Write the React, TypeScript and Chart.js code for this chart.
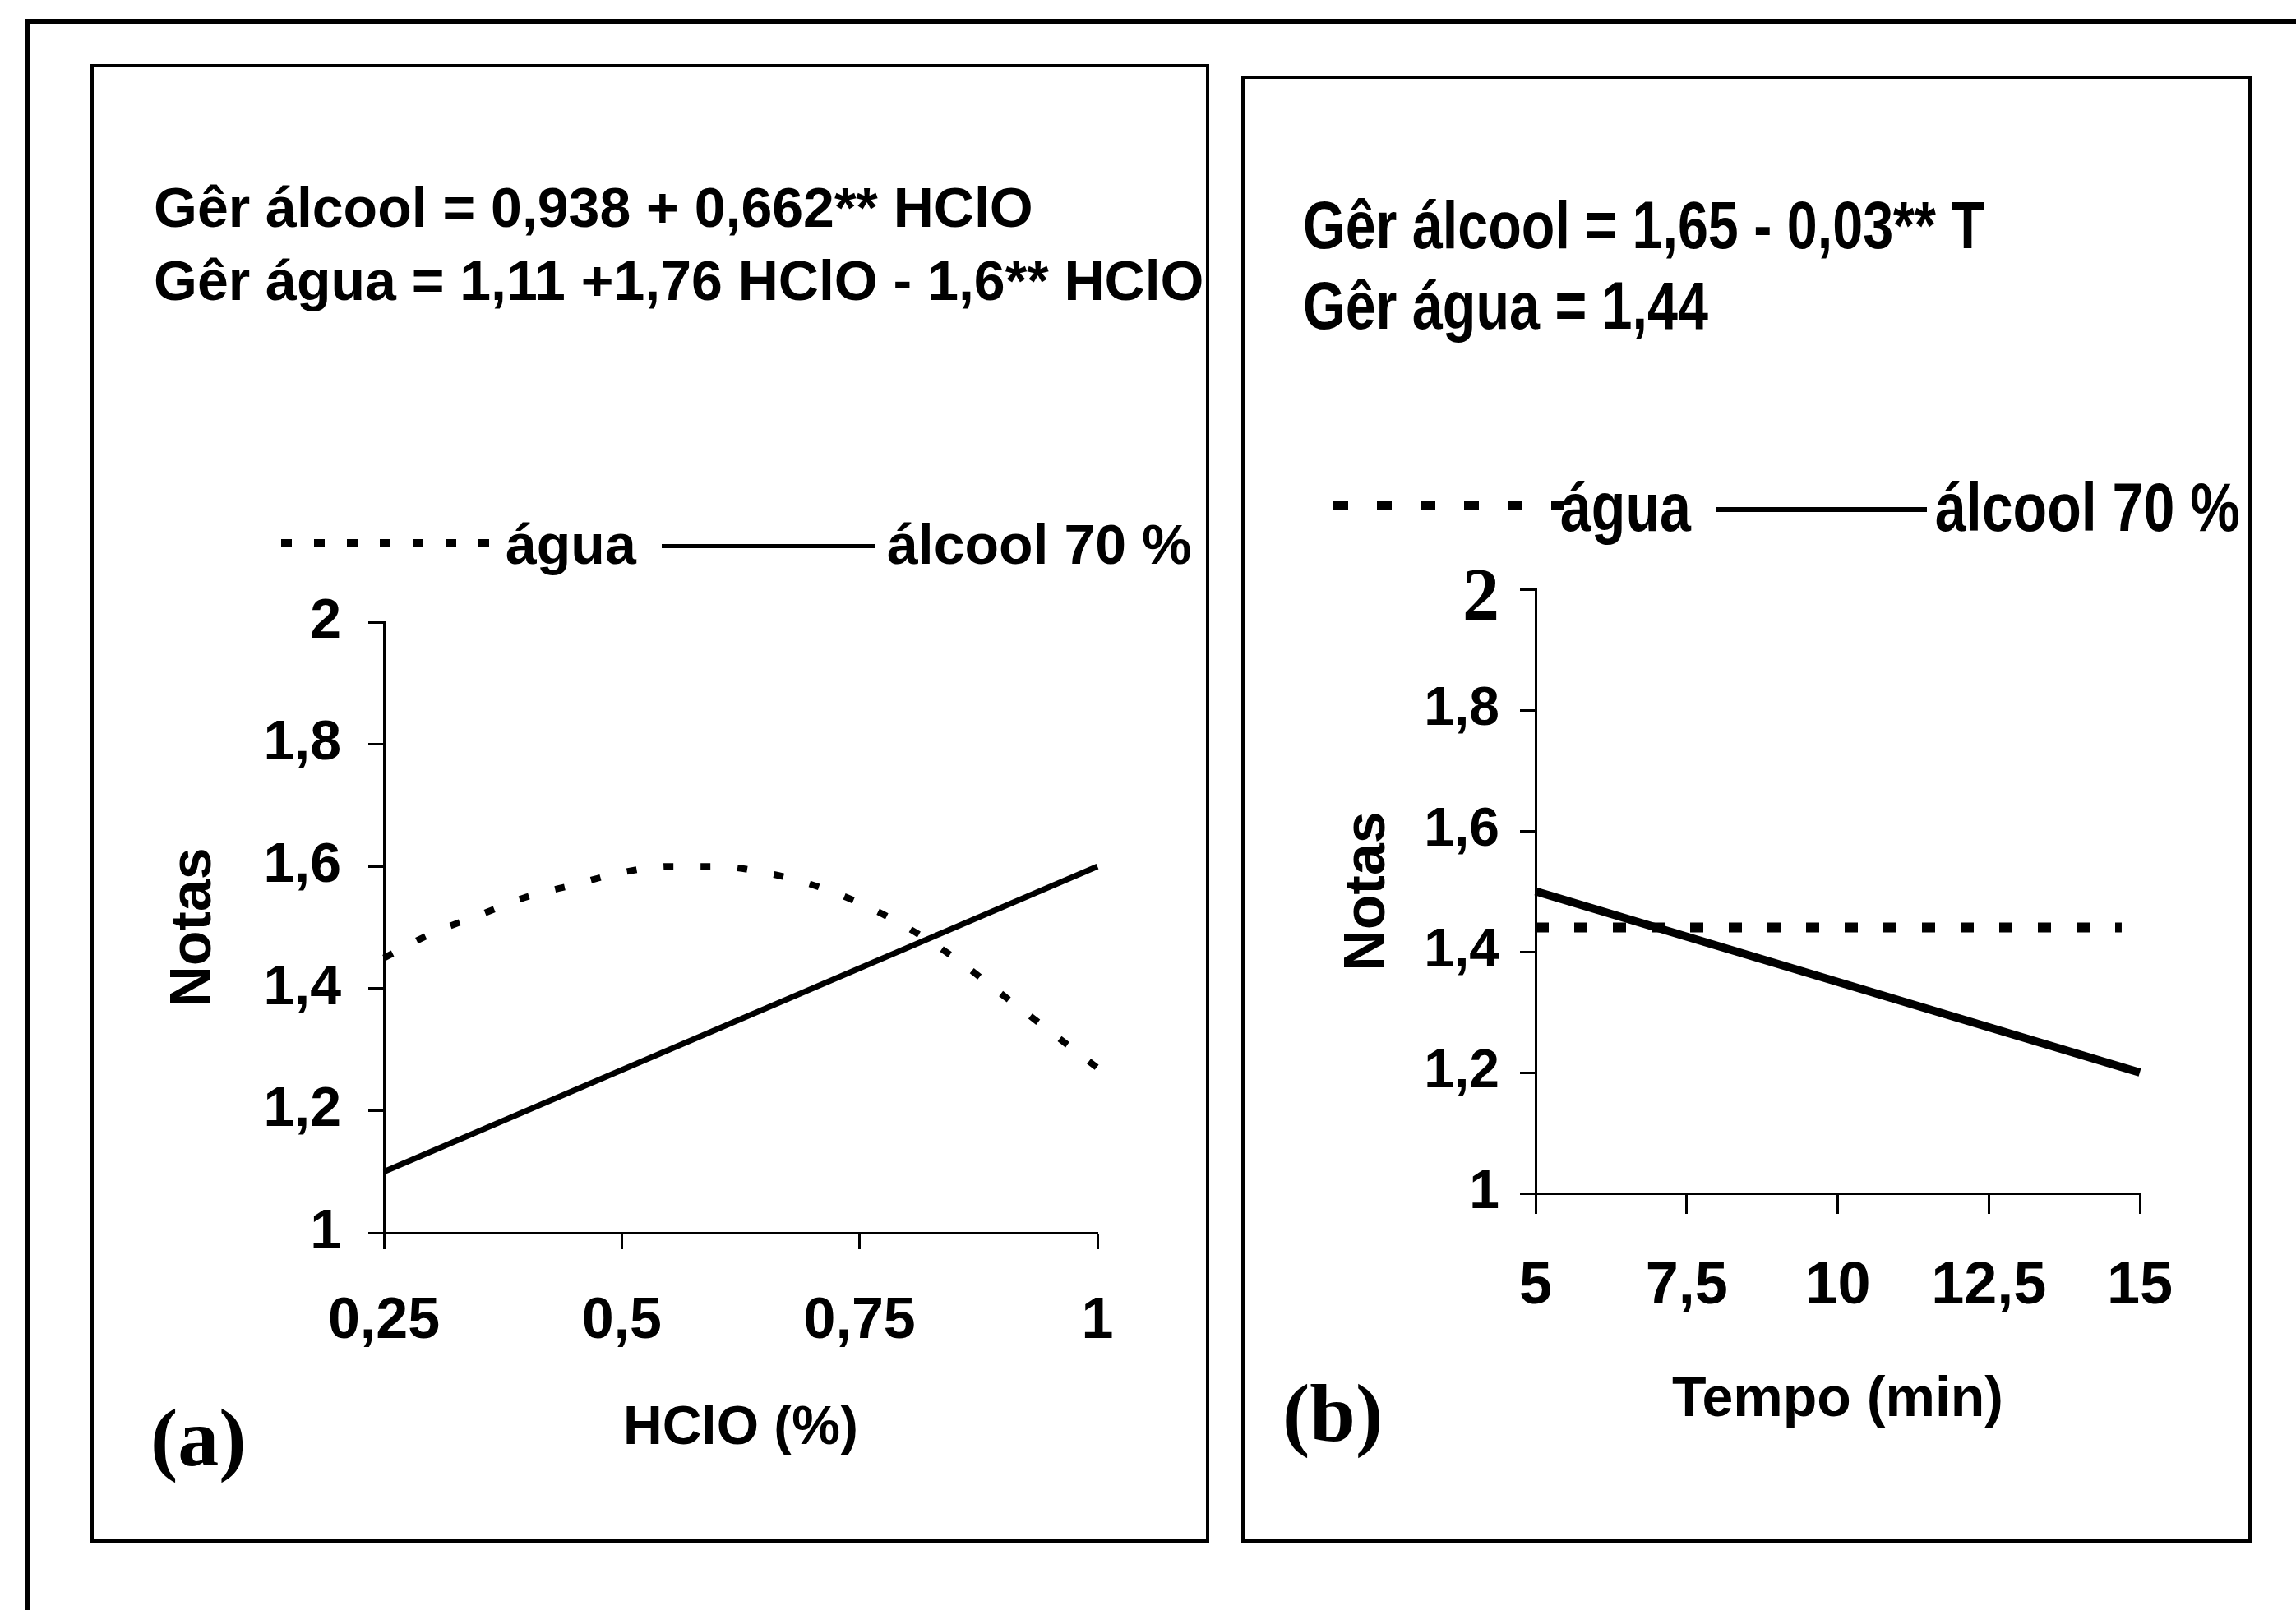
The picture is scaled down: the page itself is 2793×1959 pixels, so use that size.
import React, { useEffect, useRef } from 'react';
import { Chart, registerables } from 'chart.js';

Chart.register(...registerables);

// ---------- data ----------
const yTicks = [1, 1.2, 1.4, 1.6, 1.8, 2];
const yTickLabels = ['1', '1,2', '1,4', '1,6', '1,8', '2'];

// panel (a)
const xTicksA = [0.25, 0.5, 0.75, 1];
const xTickLabelsA = ['0,25', '0,5', '0,75', '1'];
const hclAlcool = [0.25, 1];
const notasAlcoolA = [1.1, 1.6];
const hclAgua = [0.25, 0.3, 0.35, 0.4, 0.45, 0.5, 0.55, 0.6, 0.65, 0.7, 0.75, 0.8, 0.85, 0.9, 0.95, 1.0];
const notasAguaA = [1.45, 1.49, 1.52, 1.55, 1.57, 1.59, 1.6, 1.6, 1.59, 1.57, 1.54, 1.5, 1.45, 1.39, 1.33, 1.27];

// panel (b)
const xTicksB = [5, 7.5, 10, 12.5, 15];
const xTickLabelsB = ['5', '7,5', '10', '12,5', '15'];
const tempoAlcool = [5, 15];
const notasAlcoolB = [1.5, 1.2];
const tempoAgua = [5, 14.7];
const notasAguaB = [1.44, 1.44];

const SANS = '"Liberation Sans", Arial, Helvetica, sans-serif';
const SERIF = '"Liberation Serif", "Times New Roman", serif';

const pts = (xs: number[], ys: number[]) => xs.map((x, i) => ({ x, y: ys[i] }));

function makeConfig(p: any): any {
  return {
    type: 'line',
    data: {
      datasets: [
        {
          label: 'água',
          data: pts(p.aguaX, p.aguaY),
          borderColor: '#000',
          borderWidth: p.dotWidth,
          borderDash: p.dash,
          borderCapStyle: 'butt',
          pointRadius: 0,
          fill: false,
          cubicInterpolationMode: 'monotone',
          clip: false,
        },
        {
          label: 'álcool 70 %',
          data: pts(p.alcX, p.alcY),
          borderColor: '#000',
          borderWidth: p.solidWidth,
          pointRadius: 0,
          fill: false,
          tension: 0,
          clip: false,
        },
      ],
    },
    options: {
      responsive: false,
      maintainAspectRatio: false,
      animation: false,
      devicePixelRatio: 1,
      events: [],
      layout: { padding: { left: 0, top: p.padTop, right: p.padRight, bottom: 0 } },
      plugins: { legend: { display: false }, tooltip: { enabled: false }, title: { display: false } },
      scales: {
        x: {
          type: 'linear',
          min: p.xMin,
          max: p.xMax,
          afterBuildTicks: (s: any) => {
            s.ticks = p.xTicks.map((v: number) => ({ value: v }));
          },
          afterFit: (s: any) => {
            s.height = p.xAxisH;
          },
          grid: { drawOnChartArea: false, drawTicks: true, tickLength: p.xTickLen, tickWidth: 3, tickColor: '#000' },
          border: { display: true, color: '#000', width: 3 },
          ticks: {
            autoSkip: false,
            maxRotation: 0,
            minRotation: 0,
            color: '#000',
            padding: p.xTickPad,
            font: p.xTickFont,
            callback: (_v: any, i: number) => p.xLabels[i],
          },
          title: {
            display: true,
            text: p.xTitle,
            color: '#000',
            font: p.xTitleFont,
            padding: { top: 0, bottom: p.xTitlePadBottom },
          },
        },
        y: {
          type: 'linear',
          min: 1,
          max: 2,
          afterBuildTicks: (s: any) => {
            s.ticks = yTicks.map((v) => ({ value: v }));
          },
          afterFit: (s: any) => {
            s.width = p.yAxisW;
          },
          grid: { drawOnChartArea: false, drawTicks: true, tickLength: 19, tickWidth: 3, tickColor: '#000' },
          border: { display: true, color: '#000', width: 3 },
          ticks: {
            autoSkip: false,
            color: '#000',
            padding: p.yTickPad,
            font: p.yTickFont,
            callback: p.yCallback || ((_v: any, i: number) => yTickLabels[i]),
          },
          title: {
            display: true,
            text: 'Notas',
            color: '#000',
            font: { family: SANS, size: 70, weight: 'bold' },
            padding: { top: p.yTitlePadTop, bottom: 0 },
          },
        },
      },
    },
  };
}

const cfgA = {
  aguaX: hclAgua, aguaY: notasAguaA, alcX: hclAlcool, alcY: notasAlcoolA,
  dotWidth: 8, dash: [12, 33], solidWidth: 7,
  padTop: 679, padRight: 136, xAxisH: 377, yAxisW: 357,
  xMin: 0.25, xMax: 1, xTicks: xTicksA, xLabels: xTickLabelsA,
  xTickLen: 20, xTickPad: 47,
  xTickFont: { family: SANS, size: 70, weight: 'bold' },
  xTitle: 'HClO (%)', xTitleFont: { family: SANS, size: 66, weight: 'bold' }, xTitlePadBottom: 99,
  yTickPad: 33, yTickFont: { family: SANS, size: 68, weight: 'bold' }, yTitlePadTop: 85,
};

const cfgB = {
  aguaX: tempoAgua, aguaY: notasAguaB, alcX: tempoAlcool, alcY: notasAlcoolB,
  dotWidth: 12, dash: [16, 31], solidWidth: 10,
  padTop: 624, padRight: 136, xAxisH: 425, yAxisW: 358,
  xMin: 5, xMax: 15, xTicks: xTicksB, xLabels: xTickLabelsB,
  xTickLen: 25, xTickPad: 46,
  xTickFont: { family: SANS, size: 72, weight: 'bold' },
  xTitle: 'Tempo (min)', xTitleFont: { family: SANS, size: 68, weight: 'bold' }, xTitlePadBottom: 132,
  yTickPad: 25,
  yTickFont: (ctx: any) =>
    ctx.tick && ctx.tick.value === 2
      ? { family: SERIF, size: 90, weight: 'bold', lineHeight: 0.3 }
      : { family: SANS, size: 66, weight: 'bold' },
  // the serif "2" sits slightly below its tick in the original
  yCallback: (_v: any, i: number) => (yTicks[i] === 2 ? ['', yTickLabels[i]] : yTickLabels[i]),
  yTitlePadTop: 113,
};

function ChartCanvas(props: { cfg: any; left: number; top: number; width: number; height: number }) {
  const ref = useRef<HTMLCanvasElement | null>(null);
  useEffect(() => {
    if (!ref.current) return;
    const chart = new Chart(ref.current, makeConfig(props.cfg));
    return () => chart.destroy();
  }, []);
  return (
    <canvas
      ref={ref}
      width={props.width}
      height={props.height}
      style={{ position: 'absolute', left: props.left, top: props.top, width: props.width, height: props.height }}
    />
  );
}

// text placed by baseline: line-height = size, baseline offset = k*size
function Txt(props: { x: number; base: number; size: number; family: string; k: number; sx?: number; children: any }) {
  return (
    <div
      style={{
        position: 'absolute',
        left: props.x,
        top: props.base - props.k * props.size,
        fontFamily: props.family,
        fontWeight: 'bold',
        fontSize: props.size,
        lineHeight: `${props.size}px`,
        whiteSpace: 'nowrap',
        color: '#000',
        transform: props.sx ? `scaleX(${props.sx})` : undefined,
        transformOrigin: '0 0',
      }}
    >
      {props.children}
    </div>
  );
}

const KS = 0.8465; // Liberation Sans baseline factor
const KR = 0.8375; // Liberation Serif baseline factor
const NARROW = 0.82; // horizontal squeeze for the condensed type of panel (b)

function Dots(props: { x: number; y: number; w: number; h: number; dot: number; period: number }) {
  return (
    <div
      style={{
        position: 'absolute',
        left: props.x,
        top: props.y - props.h / 2,
        width: props.w,
        height: props.h,
        background: `repeating-linear-gradient(to right, #000 0px, #000 ${props.dot}px, transparent ${props.dot}px, transparent ${props.period}px)`,
      }}
    />
  );
}

function Bar(props: { x1: number; x2: number; y: number; h: number }) {
  return (
    <div
      style={{
        position: 'absolute',
        left: props.x1,
        top: props.y - props.h / 2,
        width: props.x2 - props.x1,
        height: props.h,
        background: '#000',
      }}
    />
  );
}

export default function App() {
  return (
    <div
      style={{
        position: 'absolute',
        left: 0,
        top: 0,
        width: 2793,
        height: 1959,
        overflow: 'hidden',
        background: '#fff',
      }}
    >
      {/* outer frame (top and left edges) */}
      <div
        style={{
          position: 'absolute',
          left: 30,
          top: 23,
          width: 2900,
          height: 2100,
          borderTop: '6px solid #000',
          borderLeft: '6px solid #000',
        }}
      />
      {/* panel boxes */}
      <div style={{ position: 'absolute', left: 110, top: 78, width: 1361, height: 1799, border: '4px solid #000', boxSizing: 'border-box' }} />
      <div style={{ position: 'absolute', left: 1510, top: 92, width: 1229, height: 1785, border: '4px solid #000', boxSizing: 'border-box' }} />

      <ChartCanvas cfg={cfgA} left={110} top={78} width={1361} height={1799} />
      <ChartCanvas cfg={cfgB} left={1510} top={93} width={1229} height={1784} />

      {/* panel (a) texts */}
      <Txt x={187} base={276} size={68} family={SANS} k={KS}>Gêr álcool = 0,938 + 0,662** HClO</Txt>
      <Txt x={187} base={365} size={68} family={SANS} k={KS}>Gêr água = 1,11 +1,76 HClO - 1,6** HClO</Txt>
      <Dots x={342} y={660} w={253} h={9} dot={13} period={40} />
      <Txt x={615} base={686} size={68} family={SANS} k={KS}>água</Txt>
      <Bar x1={805} x2={1065} y={664} h={5} />
      <Txt x={1079} base={686} size={68} family={SANS} k={KS}>álcool 70 %</Txt>
      <Txt x={183} base={1784} size={100} family={SERIF} k={KR}>(a)</Txt>

      {/* panel (b) texts */}
      <Txt x={1585} base={303} size={81} family={SANS} k={KS} sx={NARROW}>Gêr álcool = 1,65 - 0,03** T</Txt>
      <Txt x={1585} base={401} size={81} family={SANS} k={KS} sx={NARROW}>Gêr água = 1,44</Txt>
      <Dots x={1622} y={615} w={281} h={12} dot={18} period={53} />
      <Txt x={1898} base={646} size={83} family={SANS} k={KS} sx={NARROW}>água</Txt>
      <Bar x1={2087} x2={2344} y={620} h={6} />
      <Txt x={2354} base={646} size={83} family={SANS} k={KS} sx={NARROW}>álcool 70 %</Txt>
      <Txt x={1560} base={1754} size={100} family={SERIF} k={KR}>(b)</Txt>
    </div>
  );
}
